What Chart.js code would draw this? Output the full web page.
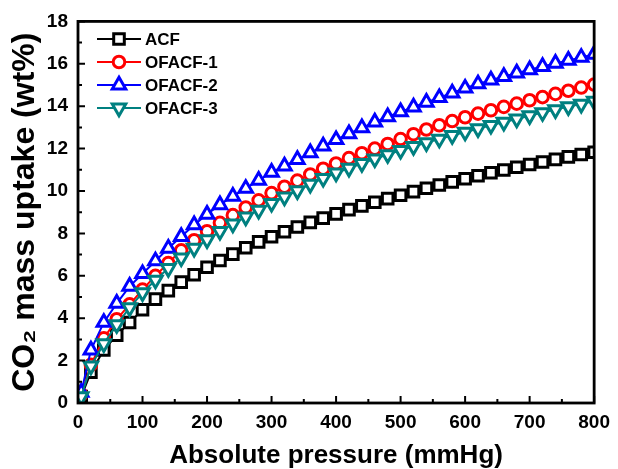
<!DOCTYPE html>
<html>
<head>
<meta charset="utf-8">
<script src="https://cdn.jsdelivr.net/npm/chart.js@4/dist/chart.umd.min.js"></script>
<style>
  body { margin: 0; background: #fff; }
  canvas { display: block; }
</style>
</head>
<body>
<canvas id="myChart" width="618" height="469"></canvas>
<script>
// pressure points (mmHg)
const pressure = [5, 20, 40, 60, 80, 100, 120, 140, 160, 180, 200, 220, 240, 260, 280, 300,
  320, 340, 360, 380, 400, 420, 440, 460, 480, 500, 520, 540, 560, 580, 600,
  620, 640, 660, 680, 700, 720, 740, 760, 780, 800];

// CO2 uptake (wt%)
const acf = [0.3, 1.45, 2.5, 3.2, 3.8, 4.4, 4.9, 5.3, 5.7, 6.05, 6.4, 6.72, 7.02, 7.32, 7.6, 7.84,
  8.08, 8.3, 8.52, 8.72, 8.92, 9.12, 9.3, 9.47, 9.64, 9.8, 9.97, 10.13, 10.28, 10.43, 10.58,
  10.72, 10.86, 10.99, 11.12, 11.25, 11.37, 11.49, 11.61, 11.72, 11.83];
const ofacf1 = [0.4, 1.8, 3.05, 3.95, 4.65, 5.35, 6.0, 6.6, 7.2, 7.68, 8.1, 8.5, 8.86, 9.22, 9.56, 9.9,
  10.2, 10.49, 10.78, 11.05, 11.3, 11.55, 11.78, 12.0, 12.22, 12.45, 12.68, 12.9, 13.1, 13.3, 13.48,
  13.65, 13.81, 13.97, 14.12, 14.28, 14.43, 14.58, 14.73, 14.88, 15.02];
const ofacf2 = [0.5, 2.5, 3.8, 4.7, 5.5, 6.1, 6.7, 7.3, 7.85, 8.4, 8.9, 9.35, 9.75, 10.12, 10.5, 10.88,
  11.18, 11.48, 11.8, 12.12, 12.42, 12.7, 12.98, 13.25, 13.5, 13.73, 13.96, 14.18, 14.4, 14.62, 14.85,
  15.05, 15.23, 15.4, 15.56, 15.72, 15.87, 16.02, 16.16, 16.3, 16.45];
const ofacf3 = [0.3, 1.75, 2.8, 3.7, 4.5, 5.2, 5.8, 6.35, 6.85, 7.3, 7.7, 8.1, 8.45, 8.78, 9.1, 9.42,
  9.72, 10.02, 10.32, 10.6, 10.85, 11.08, 11.3, 11.52, 11.72, 11.92, 12.1, 12.28, 12.45, 12.62, 12.78,
  12.94, 13.1, 13.25, 13.4, 13.55, 13.7, 13.84, 13.98, 14.1, 14.24];

const seriesNames = ["ACF", "OFACF-1", "OFACF-2", "OFACF-3"];
const seriesValues = [acf, ofacf1, ofacf2, ofacf3];
const colors = ["#000000", "#ff0000", "#0000ff", "#008080"];
const markers = [
  { style: "rect", radius: 7.5, rotation: 0 },
  { style: "circle", radius: 5.8, rotation: 0 },
  { style: "triangle", radius: 7.8, rotation: 0 },
  { style: "triangle", radius: 7.8, rotation: 180 },
];

const xTicks = [0, 100, 200, 300, 400, 500, 600, 700, 800];
const yTicks = [0, 2, 4, 6, 8, 10, 12, 14, 16, 18];

const fontFamily = "'Liberation Sans', Arial, sans-serif";

const datasets = seriesNames.map((name, i) => {
  return {
    label: name,
    data: pressure.map((p, j) => ({ x: p, y: seriesValues[i][j] })),
    borderColor: colors[i],
    backgroundColor: "#ffffff",
    borderWidth: 2,
    pointStyle: markers[i].style,
    pointRadius: markers[i].radius,
    pointRotation: markers[i].rotation,
    pointBorderWidth: 3,
    pointBorderColor: colors[i],
    pointBackgroundColor: "#ffffff",
    tension: 0,
    clip: 0,
    order: 4 - i,
  };
});

// frame, inward ticks and legend
const framePlugin = {
  id: "frame",
  afterDatasetsDraw(chart) {
    const ctx = chart.ctx;
    const a = chart.chartArea;
    const xs = chart.scales.x;
    const ys = chart.scales.y;
    ctx.save();
    ctx.strokeStyle = "#000";
    ctx.lineWidth = 2;
    ctx.beginPath();
    for (let v = 0; v <= 800; v += 50) {
      const px = xs.getPixelForValue(v);
      const len = v % 100 === 0 ? 7 : 4;
      ctx.moveTo(px, a.bottom);
      ctx.lineTo(px, a.bottom - len);
    }
    for (let v = 0; v <= 18; v += 1) {
      const py = ys.getPixelForValue(v);
      const len = v % 2 === 0 ? 7 : 4;
      ctx.moveTo(a.left, py);
      ctx.lineTo(a.left + len, py);
    }
    ctx.stroke();
    ctx.lineWidth = 2.8;
    ctx.strokeRect(a.left, a.top, a.right - a.left, a.bottom - a.top);

    // legend
    const rowY = [39, 62, 85, 108];
    chart.data.datasets.forEach((ds, i) => {
      const y = rowY[i];
      ctx.strokeStyle = ds.borderColor;
      ctx.lineWidth = 2;
      ctx.beginPath();
      ctx.moveTo(97, y);
      ctx.lineTo(141, y);
      ctx.stroke();
      ctx.fillStyle = "#fff";
      ctx.lineWidth = 3;
      Chart.helpers.drawPoint(ctx, {
        pointStyle: ds.pointStyle,
        radius: ds.pointRadius,
        rotation: ds.pointRotation,
        borderWidth: 3,
      }, 119, y);
      ctx.fillStyle = "#000";
      ctx.font = "bold 17px " + fontFamily;
      ctx.textBaseline = "middle";
      ctx.textAlign = "left";
      ctx.fillText(ds.label, 145, y + 1);
    });
    ctx.restore();
  },
};

var ctx = document.getElementById("myChart").getContext("2d");
var myChart = new Chart(ctx, {
  type: "line",
  data: { datasets: datasets },
  options: {
    responsive: false,
    animation: false,
    events: [],
    layout: { padding: { top: 20, right: 19, left: 0, bottom: 0 } },
    plugins: {
      legend: { display: false },
      tooltip: { enabled: false },
    },
    scales: {
      x: {
        type: "linear",
        min: 0,
        max: 800,
        afterFit: (s) => { s.height = 66; },
        afterBuildTicks: (s) => { s.ticks = xTicks.map((v) => ({ value: v })); },
        grid: { display: false, drawTicks: false },
        border: { display: false },
        ticks: {
          color: "#000",
          padding: 8,
          maxRotation: 0,
          font: { family: fontFamily, size: 19, weight: "bold" },
        },
        title: {
          display: true,
          text: "Absolute pressure (mmHg)",
          color: "#000",
          padding: { top: 0, bottom: 0 },
          font: { family: fontFamily, size: 26, weight: "bold", lineHeight: 1 },
        },
      },
      y: {
        type: "linear",
        min: 0,
        max: 18,
        afterFit: (s) => { s.width = 78; },
        afterBuildTicks: (s) => { s.ticks = yTicks.map((v) => ({ value: v })); },
        grid: { display: false, drawTicks: false },
        border: { display: false },
        ticks: {
          color: "#000",
          padding: 10,
          font: { family: fontFamily, size: 19, weight: "bold" },
        },
        title: {
          display: true,
          text: "CO₂ mass uptake (wt%)",
          color: "#000",
          padding: { top: 9, bottom: 0 },
          font: { family: fontFamily, size: 32, weight: "bold", lineHeight: 1 },
        },
      },
    },
  },
  plugins: [framePlugin],
});
</script>
</body>
</html>
